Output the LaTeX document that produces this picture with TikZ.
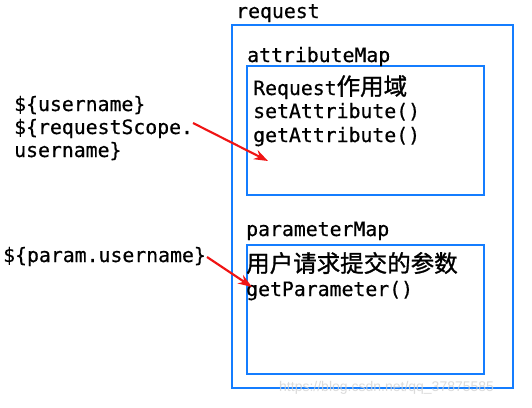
\documentclass[tikz,border=0pt]{standalone}
\usepackage{fontspec}
\setmonofont[FakeBold=0.6,AutoFakeBold=0.6]{DejaVu Sans Mono}
\newfontfamily\cjk[FakeBold=1.2,AutoFakeBold=1.2]{Noto Sans CJK SC}
\newfontfamily\wmfont{Liberation Sans}
\usetikzlibrary{arrows.meta}
\definecolor{boxblue}{RGB}{20,125,255}
\definecolor{arrred}{RGB}{240,20,20}
\begin{document}
\begin{tikzpicture}[x=1pt,y=-1pt,
  lbl/.style={anchor=base west,inner sep=0pt,font=\ttfamily\bfseries\fontsize{19.8}{22}\selectfont},
  cjktext/.style={font=\cjk\bfseries\fontsize{23.5}{24}\selectfont},
  boxline/.style={draw=boxblue,line width=2.2pt},
  redarrow/.style={draw=arrred,line width=2.1pt,-{Stealth[length=14pt,width=10pt]}}]
\useasboundingbox (0,0) rectangle (532,407);
\fill[white] (0,0) rectangle (532,407);
% boxes
\draw[boxline] (232,25) rectangle (513,388);
\draw[boxline] (247,66) rectangle (484,195);
\draw[boxline] (247,245) rectangle (484,374);
% labels
\node[lbl] (req) at (236,18) {request};
\node[lbl] (am) at (247,62) {attributeMap};
\node[lbl] (a1) at (253,95) {Request{\cjk\bfseries\fontsize{23.5}{24}\selectfont 作用域}};
\node[lbl] (a2) at (253,118) {setAttribute()};
\node[lbl] (a3) at (253,142) {getAttribute()};
\node[lbl] (pm) at (246,236) {parameterMap};
\node[lbl] (p1) at (246,272) {{\cjk\bfseries\fontsize{23.5}{24}\selectfont 用户请求提交的参数}};
\node[lbl] (p2) at (246,296) {getParameter()};
\node[lbl] (l1) at (14,111) {\$\{username\}};
\node[lbl] (l2) at (14,134) {\$\{requestScope.};
\node[lbl] (l3) at (14,157) {username\}};
\node[lbl] (l4) at (3,262) {\$\{param.username\}};
% watermark
\node[anchor=west,inner sep=0pt,text=gray!35,opacity=0.8,font=\wmfont\fontsize{14}{16}\selectfont] (wm) at (279,388) {https://blog.csdn.net/qq\_37875585};
% arrows
\coordinate (s1) at (193,123);
\coordinate (t1) at (268,161);
\coordinate (s2) at (207,257);
\coordinate (t2) at (252,287);
\draw[redarrow] (s1) -- (t1);
\draw[redarrow] (s2) -- (t2);
\end{tikzpicture}
\end{document}
